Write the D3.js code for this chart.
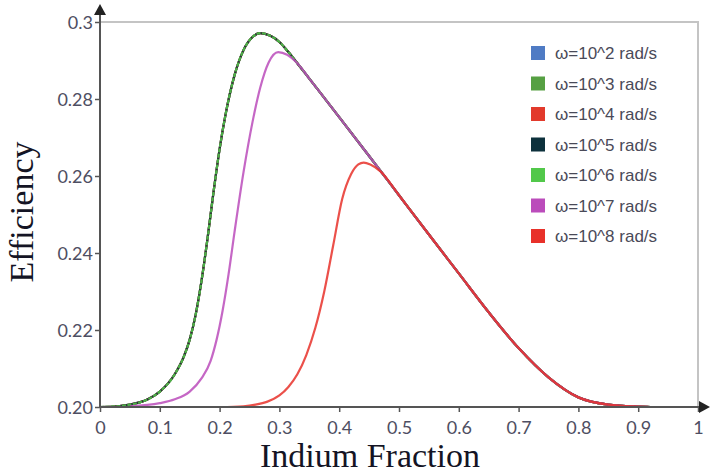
<!DOCTYPE html>
<html>
<head>
<meta charset="utf-8">
<script src="https://cdn.jsdelivr.net/npm/d3@7"></script>
<style>
  html, body { margin: 0; padding: 0; background: #fff; }
  svg { display: block; }
  .tick-label { font-family: Lato, "Open Sans", sans-serif; font-size: 18px; fill: #4e4e62; }
  .axis-title { font-family: "Liberation Serif", "Times New Roman", serif; font-size: 34px; fill: #141424; }
  .legend-label { font-family: "Liberation Sans", Arial, sans-serif; font-size: 17px; fill: #4a4a58; }
</style>
</head>
<body>
<div id="chart"></div>
<script>
// ----- data -----
const xTicks = [0, 0.1, 0.2, 0.3, 0.4, 0.5, 0.6, 0.7, 0.8, 0.9, 1];
const xTickLabels = ["0", "0.1", "0.2", "0.3", "0.4", "0.5", "0.6", "0.7", "0.8", "0.9", "1"];
const yTicks = [0.20, 0.22, 0.24, 0.26, 0.28, 0.30];
const yTickLabels = ["0.20", "0.22", "0.24", "0.26", "0.28", "0.3"];

// rising part, omega 10^2 .. 10^6 (all on top of each other)
const riseLow = [
  [0, 0.2000], [0.03, 0.2002], [0.05, 0.2006], [0.08, 0.2020], [0.1, 0.2040],
  [0.125, 0.2085], [0.14, 0.2130], [0.15, 0.2175], [0.16, 0.2240], [0.17, 0.2330],
  [0.18, 0.2440], [0.19, 0.2560], [0.2, 0.2670], [0.21, 0.2760], [0.225, 0.2862],
  [0.24, 0.2927], [0.255, 0.2961], [0.268, 0.2971], [0.285, 0.2964], [0.3, 0.2948],
  [0.315, 0.2922], [0.33, 0.2893]
];
// rising part, omega 10^7
const riseOmega7 = [
  [0.05, 0.2002], [0.1, 0.2010], [0.125, 0.2020], [0.15, 0.2040], [0.17, 0.2075],
  [0.185, 0.2120], [0.195, 0.2175], [0.205, 0.2250], [0.215, 0.2345], [0.225, 0.2455],
  [0.24, 0.2610], [0.255, 0.2740], [0.268, 0.2830], [0.282, 0.2895], [0.298, 0.2922],
  [0.313, 0.2915], [0.33, 0.2893]
];
// rising part, omega 10^8
const riseOmega8 = [
  [0.2, 0.2000], [0.24, 0.2002], [0.26, 0.2006], [0.28, 0.2014], [0.3, 0.2030],
  [0.315, 0.2052], [0.33, 0.2085], [0.345, 0.2135], [0.36, 0.2205], [0.375, 0.2300],
  [0.39, 0.2420], [0.405, 0.2540], [0.42, 0.2605], [0.432, 0.2630], [0.441, 0.2635],
  [0.452, 0.2630], [0.469, 0.2612]
];
// common falling part shared by every curve
const tail = [
  [0.35, 0.2853], [0.4, 0.2753], [0.45, 0.2652], [0.5, 0.2550], [0.55, 0.2448],
  [0.6, 0.2347], [0.65, 0.2246], [0.7, 0.2153], [0.75, 0.2077], [0.8, 0.2025],
  [0.85, 0.2006], [0.9, 0.2001], [0.92, 0.2000]
];

const seriesLabels = ["ω=10^2 rad/s", "ω=10^3 rad/s", "ω=10^4 rad/s", "ω=10^5 rad/s",
                      "ω=10^6 rad/s", "ω=10^7 rad/s", "ω=10^8 rad/s"];
const seriesColors = ["#4f7bc4", "#56a043", "#e23a2c", "#0d313c", "#52c84a", "#bb4cbb", "#e8312a"];
const seriesRise = [riseLow, riseLow, riseLow, riseLow, riseLow, riseOmega7, riseOmega8];

// ----- layout -----
const width = 710, height = 475;
const x = d3.scaleLinear().domain([0, 1]).range([100, 698]);
const y = d3.scaleLinear().domain([0.2, 0.3]).range([407, 22]);

const svg = d3.select("#chart").append("svg")
  .attr("width", width)
  .attr("height", height);

// frame (top + right, light grey)
svg.append("path")
  .attr("d", `M${x(0)},${y(0.3)} H${x(1)} V${y(0.2)}`)
  .attr("fill", "none")
  .attr("stroke", "#c4c4c4")
  .attr("stroke-width", 2);

// curves
const series = seriesLabels.map((label, i) => {
  const rise = seriesRise[i];
  const last = rise[rise.length - 1][0];
  return { label, color: seriesColors[i], values: rise.concat(tail.filter(p => p[0] > last)) };
});

const line = d3.line()
  .x(d => x(d[0]))
  .y(d => y(d[1]))
  .curve(d3.curveMonotoneX);

svg.append("g").selectAll("path.curve")
  .data(series)
  .enter()
  .append("path")
  .attr("class", "curve")
  .attr("fill", "none")
  .attr("stroke", d => d.color)
  .attr("stroke-width", 2.2)
  .attr("stroke-opacity", 0.85)
  .attr("stroke-dasharray", (d, i) => i === 4 ? "4,1.5" : null)
  .attr("d", d => line(d.values));

// axes
const axisColor = "#555";
const xAxis = svg.append("g")
  .attr("transform", `translate(0,${y(0.2)})`)
  .call(d3.axisBottom(x).tickValues(xTicks).tickFormat((d, i) => xTickLabels[i]).tickSize(5).tickSizeOuter(0));
const yAxis = svg.append("g")
  .attr("transform", `translate(${x(0)},0)`)
  .call(d3.axisLeft(y).tickValues(yTicks).tickFormat((d, i) => yTickLabels[i]).tickSize(5).tickSizeOuter(0));

[xAxis, yAxis].forEach(g => {
  g.select(".domain").remove();
  g.selectAll(".tick line").attr("stroke", axisColor).attr("stroke-width", 1.5);
  g.selectAll(".tick text").attr("class", "tick-label").attr("fill", null);
});
xAxis.selectAll(".tick text").attr("dy", null).attr("y", 27);
yAxis.selectAll(".tick text").attr("x", -7).attr("dy", "0.36em");

// axis lines with arrow heads
svg.append("line")
  .attr("x1", x(0)).attr("x2", 703)
  .attr("y1", y(0.2)).attr("y2", y(0.2))
  .attr("stroke", axisColor).attr("stroke-width", 2);
svg.append("line")
  .attr("x1", x(0)).attr("x2", x(0))
  .attr("y1", y(0.2)).attr("y2", 12)
  .attr("stroke", axisColor).attr("stroke-width", 2);
svg.append("path")
  .attr("d", `M${x(0)},4 L${x(0) - 6},15 L${x(0) + 6},15 Z`)
  .attr("fill", "#222");
svg.append("path")
  .attr("d", `M710,${y(0.2)} L699,${y(0.2) - 6} L699,${y(0.2) + 6} Z`)
  .attr("fill", "#222");

// axis titles
svg.append("text")
  .attr("class", "axis-title")
  .attr("x", 370)
  .attr("y", 467)
  .attr("text-anchor", "middle")
  .text("Indium Fraction");
svg.append("text")
  .attr("class", "axis-title")
  .attr("transform", "translate(33,212) rotate(-90)")
  .attr("text-anchor", "middle")
  .text("Efficiency");

// legend
const legend = svg.append("g").attr("transform", "translate(531,53)");
const items = legend.selectAll("g.legend-item")
  .data(series)
  .enter()
  .append("g")
  .attr("class", "legend-item")
  .attr("transform", (d, i) => `translate(0,${i * 30.5})`);
items.append("rect")
  .attr("x", 0).attr("y", -7)
  .attr("width", 14).attr("height", 14)
  .attr("fill", d => d.color);
items.append("text")
  .attr("class", "legend-label")
  .attr("x", 24)
  .attr("dy", "0.36em")
  .text(d => d.label);
</script>
</body>
</html>
